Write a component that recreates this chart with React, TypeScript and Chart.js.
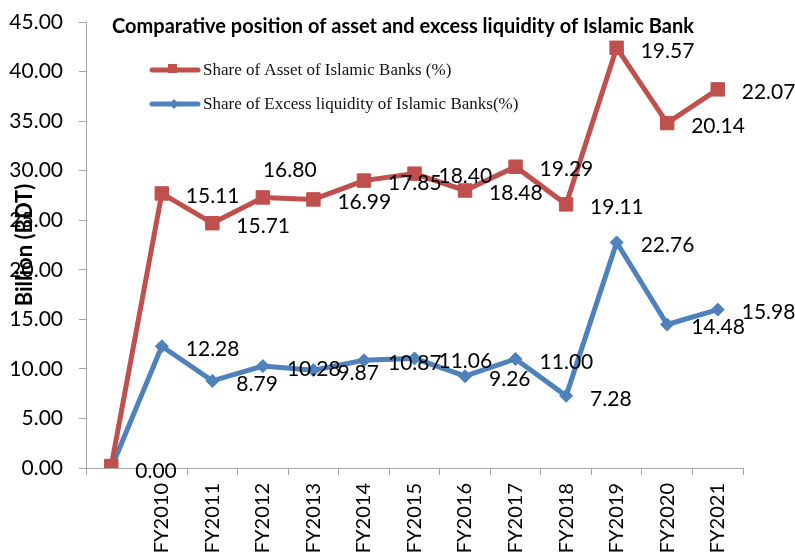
import React, { useEffect, useRef } from "react";
import { Chart, registerables } from "chart.js";

Chart.register(...registerables);

const categories = ["", "FY2010", "FY2011", "FY2012", "FY2013", "FY2014", "FY2015", "FY2016", "FY2017", "FY2018", "FY2019", "FY2020", "FY2021"];
const assetShare = [0.2, 27.7, 24.7, 27.3, 27.1, 29.0, 29.7, 28.0, 30.4, 26.6, 42.4, 34.8, 38.2];
const excessLiquidity = [0, 12.28, 8.79, 10.28, 9.87, 10.87, 11.06, 9.26, 11.0, 7.28, 22.76, 14.48, 15.98];
const assetLabels: (number | null)[] = [null, 15.11, 15.71, 16.8, 16.99, 17.85, 18.4, 18.48, 19.29, 19.11, 19.57, 20.14, 22.07];
const excessLabels: (number | null)[] = [0.0, 12.28, 8.79, 10.28, 9.87, 10.87, 11.06, 9.26, 11.0, 7.28, 22.76, 14.48, 15.98];
const seriesNames = ["Share of Asset of Islamic Banks (%)", "Share of Excess liquidity of Islamic Banks(%)"];
const titleText = "Comparative position of asset and excess liquidity of Islamic Bank";
const yAxisTitle = "Billion (BDT)";
const yMin = 0;
const yMax = 45;
const yStep = 5;

const RED = "#C0504D";
const BLUE = "#4F81BD";
const AXIS = "#A6A6A6";
const FONT = "Lato";

const overlayPlugin = {
  id: "overlay",
  afterDatasetsDraw(chart: any) {
    const ctx = chart.ctx as CanvasRenderingContext2D;
    ctx.save();
    // data labels
    ctx.font = `21px ${FONT}`;
    ctx.fillStyle = "#000";
    ctx.textAlign = "left";
    ctx.textBaseline = "middle";
    const labelSets = [assetLabels, excessLabels];
    labelSets.forEach((labels, di) => {
      const meta = chart.getDatasetMeta(di);
      meta.data.forEach((el: any, i: number) => {
        const v = labels[i];
        if (v === null || v === undefined) return;
        let dx = 24;
        let dy = 3;
        if (di === 0 && i === 3) {
          dx = 0;
          dy = -27;
        }
        ctx.fillText(v.toFixed(2), el.x + dx, el.y + dy);
      });
    });

    // title
    ctx.font = `bold 20px ${FONT}`;
    ctx.textAlign = "center";
    ctx.fillText(titleText, 403, 27);

    // y axis title
    ctx.save();
    ctx.translate(25, 245);
    ctx.rotate(-Math.PI / 2);
    ctx.font = `bold 22px ${FONT}`;
    ctx.textAlign = "center";
    ctx.textBaseline = "middle";
    ctx.fillText(yAxisTitle, 0, 0);
    ctx.restore();

    // legend
    const rows = [
      { y: 70, color: RED, kind: "rect" },
      { y: 104, color: BLUE, kind: "diamond" },
    ];
    rows.forEach((r, i) => {
      ctx.strokeStyle = r.color;
      ctx.fillStyle = r.color;
      ctx.lineWidth = 5;
      ctx.lineCap = "round";
      ctx.beginPath();
      ctx.moveTo(152, r.y);
      ctx.lineTo(198, r.y);
      ctx.stroke();
      if (r.kind === "rect") {
        ctx.fillRect(168, r.y - 6, 9, 9);
      } else {
        ctx.beginPath();
        ctx.moveTo(174, r.y - 5);
        ctx.lineTo(179, r.y);
        ctx.lineTo(174, r.y + 5);
        ctx.lineTo(169, r.y);
        ctx.closePath();
        ctx.fill();
      }
      ctx.fillStyle = "#111";
      ctx.font = `17px "Liberation Serif"`;
      ctx.textAlign = "left";
      ctx.textBaseline = "middle";
      ctx.fillText(seriesNames[i], 203, r.y + 1);
    });
    ctx.restore();
  },
};

export default function App() {
  const ref = useRef<HTMLCanvasElement | null>(null);
  useEffect(() => {
    document.body.style.margin = "0";
    if (!ref.current) return;
    const chart = new Chart(ref.current, {
      type: "line",
      data: {
        labels: categories,
        datasets: [
          {
            label: seriesNames[0],
            data: assetShare,
            borderColor: RED,
            backgroundColor: RED,
            borderWidth: 5,
            pointStyle: "rect",
            pointRadius: 9.5,
            pointBorderWidth: 1,
            pointBackgroundColor: RED,
            pointBorderColor: RED,
            tension: 0,
          },
          {
            label: seriesNames[1],
            data: excessLiquidity,
            borderColor: BLUE,
            backgroundColor: BLUE,
            borderWidth: 5,
            pointStyle: "rectRot",
            pointRadius: 6.5,
            pointBorderWidth: 1,
            pointBackgroundColor: BLUE,
            pointBorderColor: BLUE,
            tension: 0,
          },
        ],
      },
      options: {
        animation: false,
        responsive: false,
        devicePixelRatio: 1,
        layout: { autoPadding: false, padding: { top: 22, right: 52, left: 0, bottom: 0 } },
        plugins: {
          legend: { display: false },
          title: { display: false },
          tooltip: { enabled: false },
        },
        scales: {
          x: {
            offset: true,
            grid: {
              display: true,
              offset: true,
              drawOnChartArea: false,
              drawTicks: true,
              tickLength: 7,
              color: AXIS,
            },
            border: { display: true, color: AXIS, width: 1 },
            ticks: {
              autoSkip: false,
              maxRotation: 90,
              minRotation: 90,
              padding: 8,
              color: "#000",
              font: { family: FONT, size: 20 },
            },
            afterFit: (s: any) => {
              s.height = 87;
              s.paddingLeft = 0;
              s.paddingRight = 0;
            },
          },
          y: {
            min: yMin,
            max: yMax,
            grid: {
              display: true,
              drawOnChartArea: false,
              drawTicks: true,
              tickLength: 7,
              color: AXIS,
            },
            border: { display: true, color: AXIS, width: 1 },
            ticks: {
              stepSize: yStep,
              padding: 16,
              color: "#000",
              font: { family: FONT, size: 21 },
              callback: (v: any) => Number(v).toFixed(2),
            },
            afterFit: (s: any) => {
              s.width = 86;
              s.paddingTop = 0;
              s.paddingBottom = 0;
            },
          },
        },
      },
      plugins: [overlayPlugin],
    });
    return () => chart.destroy();
  }, []);
  return <canvas ref={ref} width={795} height={555} style={{ display: "block" }} />;
}
